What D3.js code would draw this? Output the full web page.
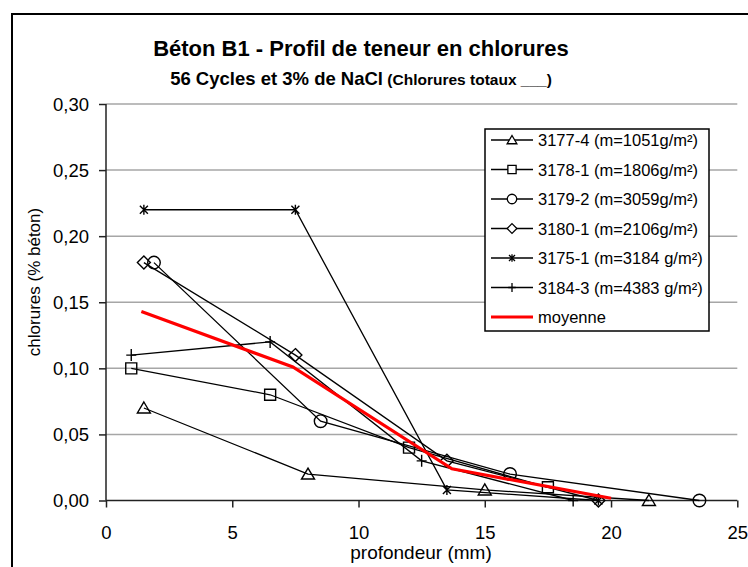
<!DOCTYPE html>
<html><head><meta charset="utf-8">
<script src="https://cdn.jsdelivr.net/npm/d3@7"></script>
<style>body{margin:0;background:#fff} svg{display:block} text{font-family:"Liberation Sans",Arial,sans-serif;fill:#000}</style>
</head><body><svg id="c" width="748" height="567"></svg>
<script>
// ---- data ----
const seriesNames = ["3177-4 (m=1051g/m²)", "3178-1 (m=1806g/m²)", "3179-2 (m=3059g/m²)", "3180-1 (m=2106g/m²)", "3175-1 (m=3184 g/m²)", "3184-3 (m=4383 g/m²)", "moyenne"];
const markerTypes = ["triangle", "square", "circle", "diamond", "star", "plus", "none"];
const depth_3177_4 = [1.5, 8, 15, 21.5];
const cl_3177_4    = [0.07, 0.02, 0.008, 0];
const depth_3178_1 = [1, 6.5, 12, 17.5];
const cl_3178_1    = [0.10, 0.08, 0.04, 0.01];
const depth_3179_2 = [1.9, 8.5, 16, 23.5];
const cl_3179_2    = [0.18, 0.06, 0.02, 0];
const depth_3180_1 = [1.5, 7.5, 13.5, 19.5];
const cl_3180_1    = [0.18, 0.11, 0.03, 0];
const depth_3175_1 = [1.5, 7.5, 13.5, 19.5];
const cl_3175_1    = [0.22, 0.22, 0.008, 0];
const depth_3184_3 = [1, 6.5, 12.5, 18.5];
const cl_3184_3    = [0.11, 0.12, 0.03, 0];
const depth_moy    = [1.4, 7.4, 13.7, 20];
const cl_moy       = [0.143, 0.101, 0.024, 0.0017];
const xTicks = [0, 5, 10, 15, 20, 25];
const yTicks = [0, 0.05, 0.10, 0.15, 0.20, 0.25, 0.30];
const titleText = "Béton B1 - Profil de teneur en chlorures";
const subTitleMain = "56 Cycles et 3% de NaCl";
const subTitleSmall = " (Chlorures totaux ___)";
const xLabel = "profondeur (mm)";
const yLabel = "chlorures (% béton)";

const depths = [depth_3177_4, depth_3178_1, depth_3179_2, depth_3180_1, depth_3175_1, depth_3184_3, depth_moy];
const values = [cl_3177_4, cl_3178_1, cl_3179_2, cl_3180_1, cl_3175_1, cl_3184_3, cl_moy];
const series = seriesNames.map((n, i) => ({
  name: n, marker: markerTypes[i],
  pts: depths[i].map((d, j) => ({x: d, y: values[i][j]}))
}));

// ---- layout ----
const svg = d3.select("#c");
const X0 = 106, X1 = 737.3, Y0 = 500.5, Y1 = 104;
const x = d3.scaleLinear().domain([0, 25]).range([X0, X1]);
const y = d3.scaleLinear().domain([0, 0.30]).range([Y0, Y1]);
const FF = '"Liberation Sans",Arial,sans-serif';

// outer chart border
svg.append("rect").attr("x", 12).attr("y", 14).attr("width", 760).attr("height", 600)
  .attr("fill", "none").attr("stroke", "#000").attr("stroke-width", 2);

// gridlines
svg.append("g").selectAll("line").data(yTicks.filter(t => t > 0)).join("line")
  .attr("x1", X0).attr("x2", X1).attr("y1", d => y(d)).attr("y2", d => y(d))
  .attr("stroke", "#a6a6a6").attr("stroke-width", 1.5);

const fmt = d => d3.format(".2f")(d).replace(".", ",");

// y axis
const yAxis = svg.append("g").attr("transform", `translate(${X0},0)`)
  .call(d3.axisLeft(y).tickValues(yTicks).tickFormat(fmt).tickSize(7).tickPadding(10));
yAxis.select(".domain").attr("stroke", "#222").attr("stroke-width", 1.5).attr("d", `M0,${Y1}V${Y0}`);
yAxis.selectAll(".tick line").attr("stroke", "#222").attr("stroke-width", 1.5);
yAxis.selectAll("text").style("font-size", "18.5px").style("font-family", FF).attr("fill", "#000").attr("dy", "0.34em");

// x axis
const xAxis = svg.append("g").attr("transform", `translate(0,${Y0})`)
  .call(d3.axisBottom(x).tickValues(xTicks).tickFormat(d3.format("d")).tickSize(7).tickPadding(10));
xAxis.select(".domain").attr("stroke", "#222").attr("stroke-width", 1.5).attr("d", `M${X0},0H${X1}`);
xAxis.selectAll(".tick line").attr("stroke", "#222").attr("stroke-width", 1.5);
xAxis.selectAll("text").style("font-size", "18.5px").style("font-family", FF).attr("fill", "#000")
  .attr("y", 38).attr("dy", "0");

// marker paths
function markerPath(t, s) {
  s = s || 1;
  const k = v => v * s;
  switch (t) {
    case "triangle": return `M0,${k(-6)}L${k(6.5)},${k(5)}L${k(-6.5)},${k(5)}Z`;
    case "square": return `M${k(-5.5)},${k(-5.5)}h${k(11)}v${k(11)}h${k(-11)}Z`;
    case "circle": return `M${k(6.3)},0A${k(6.3)},${k(6.3)} 0 1,1 ${k(-6.3)},0A${k(6.3)},${k(6.3)} 0 1,1 ${k(6.3)},0Z`;
    case "diamond": return `M0,${k(-6.5)}L${k(6.5)},0L0,${k(6.5)}L${k(-6.5)},0Z`;
    case "star": return `M${k(-4)},${k(-4)}L${k(4)},${k(4)}M${k(-4)},${k(4)}L${k(4)},${k(-4)}M0,${k(-5)}L0,${k(5)}`;
    case "plus": return `M0,${k(-6)}L0,${k(6)}M${k(-5)},0L${k(5)},0`;
  }
  return "";
}

const line = d3.line().x(d => x(d.x)).y(d => y(d.y));
const gS = svg.append("g");
series.forEach(s => {
  const isAvg = s.marker === "none";
  gS.append("path").datum(s.pts).attr("d", line).attr("fill", "none")
    .attr("stroke", isAvg ? "#ff0000" : "#000")
    .attr("stroke-width", isAvg ? 3.2 : 1.3);
  if (!isAvg) {
    gS.append("g").selectAll("path").data(s.pts).join("path")
      .attr("transform", d => `translate(${x(d.x)},${y(d.y)})`)
      .attr("d", markerPath(s.marker)).attr("fill", "none")
      .attr("stroke", "#000").attr("stroke-width", 1.4);
  }
});

// legend
const LX = 485, LY = 129, LW = 224, LH = 202;
const leg = svg.append("g");
leg.append("rect").attr("x", LX).attr("y", LY).attr("width", LW).attr("height", LH)
  .attr("fill", "#fff").attr("stroke", "#000").attr("stroke-width", 1.5);
series.forEach((s, i) => {
  const cy = 140 + i * 29.5;
  const isAvg = s.marker === "none";
  leg.append("line").attr("x1", 491).attr("x2", 533).attr("y1", cy).attr("y2", cy)
    .attr("stroke", isAvg ? "#ff0000" : "#000").attr("stroke-width", isAvg ? 3.2 : 1.3);
  if (!isAvg) leg.append("path").attr("transform", `translate(512,${cy})`)
    .attr("d", markerPath(s.marker, 0.75)).attr("fill", "#fff").attr("stroke", "#000").attr("stroke-width", 1.3);
  leg.append("text").attr("x", 538).attr("y", cy + 6).style("font-size", "16.5px").text(s.name);
});

// titles
svg.append("text").attr("x", 361).attr("y", 56).attr("text-anchor", "middle")
  .style("font-size", "22px").style("font-weight", "bold").text(titleText);
const st = svg.append("text").attr("x", 361).attr("y", 85).attr("text-anchor", "middle").style("font-weight", "bold");
st.append("tspan").style("font-size", "18.5px").text(subTitleMain);
st.append("tspan").style("font-size", "15.5px").text(subTitleSmall);

// axis labels
svg.append("text").attr("x", 421).attr("y", 559).attr("text-anchor", "middle").style("font-size", "19px").text(xLabel);
svg.append("text").attr("transform", "translate(40,282) rotate(-90)").attr("text-anchor", "middle").style("font-size", "17px").text(yLabel);
</script></body></html>
